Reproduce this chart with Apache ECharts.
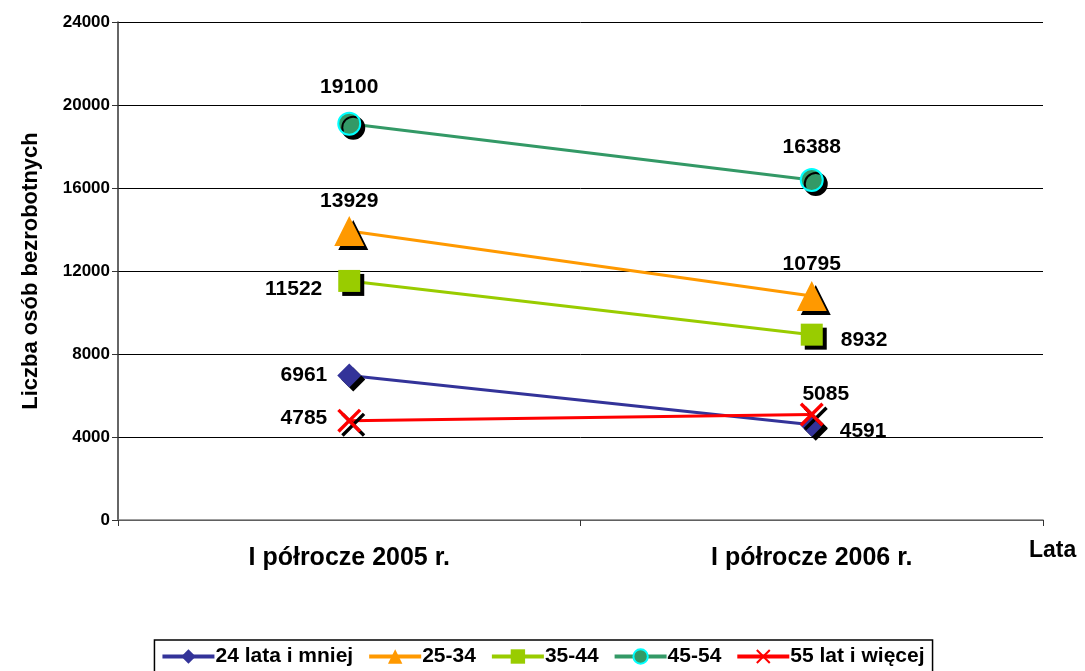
<!DOCTYPE html>
<html>
<head>
<meta charset="UTF-8">
<script src="https://cdn.jsdelivr.net/npm/echarts@6/dist/echarts.min.js"></script>
</head>
<body style="margin:0;background:#fff">
<div id="main" style="width:1085px;height:671px;"></div>
<script type="text/javascript">
  var categories = ['I półrocze 2005 r.', 'I półrocze 2006 r.'];
  var seriesNames = ['24 lata i mniej', '25-34', '35-44', '45-54', '55 lat i więcej'];
  var v24 = [6961, 4591];
  var v25 = [13929, 10795];
  var v35 = [11522, 8932];
  var v45 = [19100, 16388];
  var v55 = [4785, 5085];

  var crossPath = 'path://M0,1L1,0L10,9L9,10ZM9,0L10,1L1,10L0,9Z';
  var labelFont = { fontFamily: 'Liberation Sans', fontWeight: 'bold', fontSize: 21, color: '#000' };
  var shadow = { shadowColor: '#000', shadowOffsetX: 4, shadowOffsetY: 4, shadowBlur: 0 };

  function mk(name, data, color, symbol, size, pos, extra) {
    return {
      name: name,
      type: 'line',
      data: data.map(function (v, i) {
        var p = pos[i];
        return { value: v, label: { position: p[0], distance: p[1], offset: p[2] || [0, 0] } };
      }),
      symbol: symbol,
      symbolSize: size,
      lineStyle: { color: color, width: 3 },
      itemStyle: Object.assign({ color: color }, shadow, extra || {}),
      label: Object.assign({ show: true }, labelFont),
      z: 3
    };
  }

  var chart = echarts.init(document.getElementById('main'));
  chart.setOption({
    animation: false,
    textStyle: { fontFamily: 'Liberation Sans' },
    grid: { left: 118, right: 42, top: 22, bottom: 151, outerBoundsMode: 'none' },
    xAxis: {
      type: 'category',
      data: categories,
      boundaryGap: true,
      name: 'Lata',
      nameLocation: 'end',
      nameGap: 0,
      nameTextStyle: { fontWeight: 'bold', fontSize: 23, color: '#000', align: 'left', verticalAlign: 'top', padding: [19, 0, 0, -14] },
      axisLine: { lineStyle: { color: '#808080', width: 1.5 } },
      axisTick: { show: true, length: 6, lineStyle: { color: '#333' } },
      axisLabel: { fontWeight: 'bold', fontSize: 25, color: '#000', margin: 26 }
    },
    yAxis: {
      type: 'value',
      min: 0,
      max: 24000,
      interval: 4000,
      name: 'Liczba osób bezrobotnych',
      nameLocation: 'middle',
      nameGap: 76,
      nameRotate: 90,
      nameTextStyle: { fontWeight: 'bold', fontSize: 22, color: '#000' },
      axisLine: { show: true, lineStyle: { color: '#333', width: 1.5 } },
      axisTick: { show: true, length: 6, lineStyle: { color: '#333' } },
      axisLabel: { fontWeight: 'bold', fontSize: 17, color: '#000', margin: 8, formatter: function (v) { return String(v); } },
      splitLine: { lineStyle: { color: '#000', width: 1 } }
    },
    legend: {
      top: 640,
      left: 'center',
      itemWidth: 52,
      itemHeight: 18,
      itemGap: 14,
      padding: [6, 8, 6, 6],
      borderColor: '#000',
      borderWidth: 1.5,
      lineStyle: { width: 4 },
      textStyle: { fontWeight: 'bold', fontSize: 21, color: '#000', padding: [0, 0, 0, -4] },
      data: seriesNames
    },
    series: [
      mk(seriesNames[0], v24, '#333399', 'diamond', 24, [['left', 10], ['right', 14, [2, 6]]]),
      mk(seriesNames[1], v25, '#FF9900', 'triangle', 30, [['top', 4], ['top', 6]]),
      mk(seriesNames[2], v35, '#99CC00', 'rect', 22, [['left', 16, [0, 8]], ['right', 18, [0, 6]]]),
      mk(seriesNames[3], v45, '#339966', 'circle', 22, [['top', 14], ['top', 10]], { borderColor: '#00FFFF', borderWidth: 2 }),
      mk(seriesNames[4], v55, '#FF0000', crossPath, 24, [['left', 10, [0, -3]], ['top', 6, [14, 8]]])
    ]
  });
</script>
</body>
</html>
